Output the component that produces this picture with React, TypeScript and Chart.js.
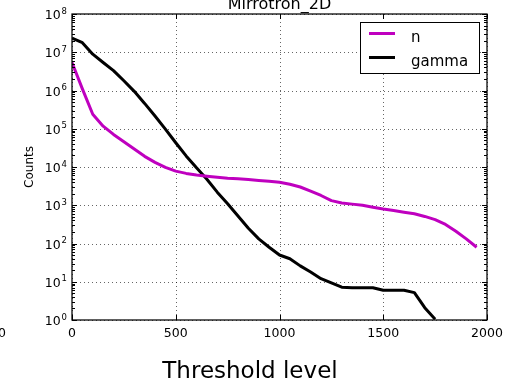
import { useEffect, useRef } from "react";
import { Chart, registerables } from "chart.js";

Chart.register(...registerables);

// Threshold steps shared by both series
const thresholds = [
  0, 50, 100, 150, 200, 250, 300, 350, 400, 450,
  500, 550, 600, 650, 700, 750, 800, 850, 900, 950,
  1000, 1050, 1100, 1150, 1200, 1250, 1300, 1350, 1400, 1450,
  1500, 1550, 1600, 1650, 1700, 1750, 1800, 1850, 1900, 1950,
];

// Counts above threshold for neutrons
const nCounts = [
  5.4e6, 1.1e6, 2.4e5, 1.17e5, 7.1e4, 4.6e4, 2.95e4, 1.9e4, 1.32e4, 9.8e3,
  7.8e3, 6.8e3, 6.2e3, 5.75e3, 5.4e3, 5.1e3, 4.9e3, 4.7e3, 4.45e3, 4.25e3,
  4.0e3, 3.55e3, 3.0e3, 2.35e3, 1.8e3, 1.32e3, 1.15e3, 1.07e3, 1.0e3, 890,
  795, 725, 660, 600, 510, 420, 316, 210, 132, 80,
];

// Counts above threshold for gammas (ends where the count reaches 1)
const gammaCounts = [
  2.35e7, 1.78e7, 8.9e6, 5.4e6, 3.3e6, 1.8e6, 9.5e5, 4.6e5, 2.15e5, 9.8e4,
  4.3e4, 1.95e4, 9.5e3, 4.8e3, 2.2e3, 1.1e3, 525, 250, 132, 80,
  50, 40, 26, 18, 12, 9.3, 7.2, 7, 7, 7,
  6, 6, 6, 5.2, 2.1, 1.05,
];

const xTicks = [0, 500, 1000, 1500, 2000];
const yExponents = [0, 1, 2, 3, 4, 5, 6, 7, 8];
const seriesLabels = ["n", "gamma"];
const seriesColors = ["#bf00bf", "#000000"];
const titleText = "Mirrotron_2D";
const xAxisTitle = "Threshold level";
const yAxisTitle = "Counts";
const neighbourTick = "2000";

const FONT = "'DejaVu Sans', sans-serif";

const toPoints = (values: number[]) =>
  values.map((v, i) => ({ x: thresholds[i], y: v }));

const decorations = {
  id: "decorations",
  beforeDatasetsDraw(chart: any) {
    const { ctx, chartArea: a, scales } = chart;
    const xs = scales.x;
    const ys = scales.y;
    ctx.save();
    ctx.strokeStyle = "rgba(0,0,0,0.6)";
    ctx.lineWidth = 1;
    ctx.setLineDash([1, 3]);
    for (const t of xTicks) {
      const px = Math.round(xs.getPixelForValue(t)) + 0.5;
      ctx.beginPath();
      ctx.moveTo(px, a.top);
      ctx.lineTo(px, a.bottom);
      ctx.stroke();
    }
    for (const e of yExponents) {
      const py = Math.round(ys.getPixelForValue(Math.pow(10, e))) + 0.5;
      ctx.beginPath();
      ctx.moveTo(a.left, py);
      ctx.lineTo(a.right, py);
      ctx.stroke();
    }
    ctx.restore();
  },
  afterDraw(chart: any) {
    const { ctx, chartArea: a, scales } = chart;
    const xs = scales.x;
    const ys = scales.y;
    ctx.save();
    ctx.setLineDash([]);

    // frame
    ctx.strokeStyle = "#000";
    ctx.lineWidth = 1.25;
    ctx.strokeRect(a.left, a.top, a.right - a.left, a.bottom - a.top);

    // tick marks, drawn inward on all four sides
    ctx.lineWidth = 1;
    for (const t of xTicks) {
      const px = Math.round(xs.getPixelForValue(t)) + 0.5;
      ctx.beginPath();
      ctx.moveTo(px, a.bottom);
      ctx.lineTo(px, a.bottom - 5);
      ctx.moveTo(px, a.top);
      ctx.lineTo(px, a.top + 5);
      ctx.stroke();
    }
    for (const e of yExponents) {
      const py = Math.round(ys.getPixelForValue(Math.pow(10, e))) + 0.5;
      ctx.beginPath();
      ctx.moveTo(a.left, py);
      ctx.lineTo(a.left + 5, py);
      ctx.moveTo(a.right, py);
      ctx.lineTo(a.right - 5, py);
      ctx.stroke();
      if (e < 8) {
        for (let m = 2; m <= 9; m++) {
          const pm = Math.round(ys.getPixelForValue(m * Math.pow(10, e))) + 0.5;
          ctx.beginPath();
          ctx.moveTo(a.left, pm);
          ctx.lineTo(a.left + 3, pm);
          ctx.moveTo(a.right, pm);
          ctx.lineTo(a.right - 3, pm);
          ctx.stroke();
        }
      }
    }

    // tick labels
    ctx.fillStyle = "#000";
    ctx.textBaseline = "alphabetic";
    ctx.font = `12.5px ${FONT}`;
    ctx.textAlign = "center";
    for (const t of xTicks) {
      ctx.fillText(String(t), xs.getPixelForValue(t), a.bottom + 17);
    }
    ctx.textAlign = "right";
    ctx.fillText(neighbourTick, 6, a.bottom + 17);

    for (const e of yExponents) {
      const py = ys.getPixelForValue(Math.pow(10, e));
      const right = a.left - 5;
      ctx.font = `8.5px ${FONT}`;
      ctx.textAlign = "right";
      const ew = ctx.measureText(String(e)).width;
      ctx.fillText(String(e), right, py - 0.5);
      ctx.font = `12.5px ${FONT}`;
      ctx.fillText("10", right - ew - 1, py + 5);
    }

    // title (runs off the top edge)
    ctx.font = `16px ${FONT}`;
    ctx.textAlign = "center";
    ctx.fillText(titleText, (a.left + a.right) / 2, 9);

    // y axis title
    ctx.save();
    ctx.translate(30, (a.top + a.bottom) / 2);
    ctx.rotate(-Math.PI / 2);
    ctx.font = `12px ${FONT}`;
    ctx.textAlign = "center";
    ctx.textBaseline = "middle";
    ctx.fillText(yAxisTitle, 0, 0);
    ctx.restore();

    // figure-level x title
    ctx.font = `23px ${FONT}`;
    ctx.textAlign = "center";
    ctx.fillText(xAxisTitle, 250, 378);

    // legend
    const lx = 360, ly = 22, lw = 119, lh = 51;
    ctx.fillStyle = "#fff";
    ctx.fillRect(lx, ly, lw, lh);
    ctx.strokeStyle = "#000";
    ctx.lineWidth = 1;
    ctx.strokeRect(lx + 0.5, ly + 0.5, lw, lh);
    ctx.font = `15px ${FONT}`;
    ctx.textAlign = "left";
    seriesLabels.forEach((label, i) => {
      const rowY = 33.5 + i * 24;
      ctx.strokeStyle = seriesColors[i];
      ctx.lineWidth = 3;
      ctx.beginPath();
      ctx.moveTo(369, rowY);
      ctx.lineTo(395, rowY);
      ctx.stroke();
      ctx.fillStyle = "#000";
      ctx.fillText(label, 411, rowY + 8);
    });

    ctx.restore();
  },
};

export default function App() {
  const canvasRef = useRef<HTMLCanvasElement | null>(null);

  useEffect(() => {
    if (!canvasRef.current) return;
    const chart = new Chart(canvasRef.current, {
      type: "line",
      data: {
        datasets: [
          {
            label: seriesLabels[0],
            data: toPoints(nCounts),
            borderColor: seriesColors[0],
            borderWidth: 3,
            pointRadius: 0,
            tension: 0,
            borderJoinStyle: "round",
          },
          {
            label: seriesLabels[1],
            data: toPoints(gammaCounts),
            borderColor: seriesColors[1],
            borderWidth: 3,
            pointRadius: 0,
            tension: 0,
            borderJoinStyle: "round",
          },
        ],
      },
      options: {
        animation: false,
        responsive: false,
        devicePixelRatio: 1,
        events: [],
        layout: { padding: { left: 72, top: 14, right: 23, bottom: 60 } },
        plugins: {
          legend: { display: false },
          tooltip: { enabled: false },
          title: { display: false },
        },
        scales: {
          x: { type: "linear", min: 0, max: 2000, display: false },
          y: { type: "logarithmic", min: 1, max: 1e8, display: false },
        },
      },
      plugins: [decorations],
    });
    return () => chart.destroy();
  }, []);

  return (
    <div style={{ position: "fixed", left: 0, top: 0, width: 510, height: 380, background: "#fff" }}>
      <canvas ref={canvasRef} width={510} height={380} />
    </div>
  );
}
